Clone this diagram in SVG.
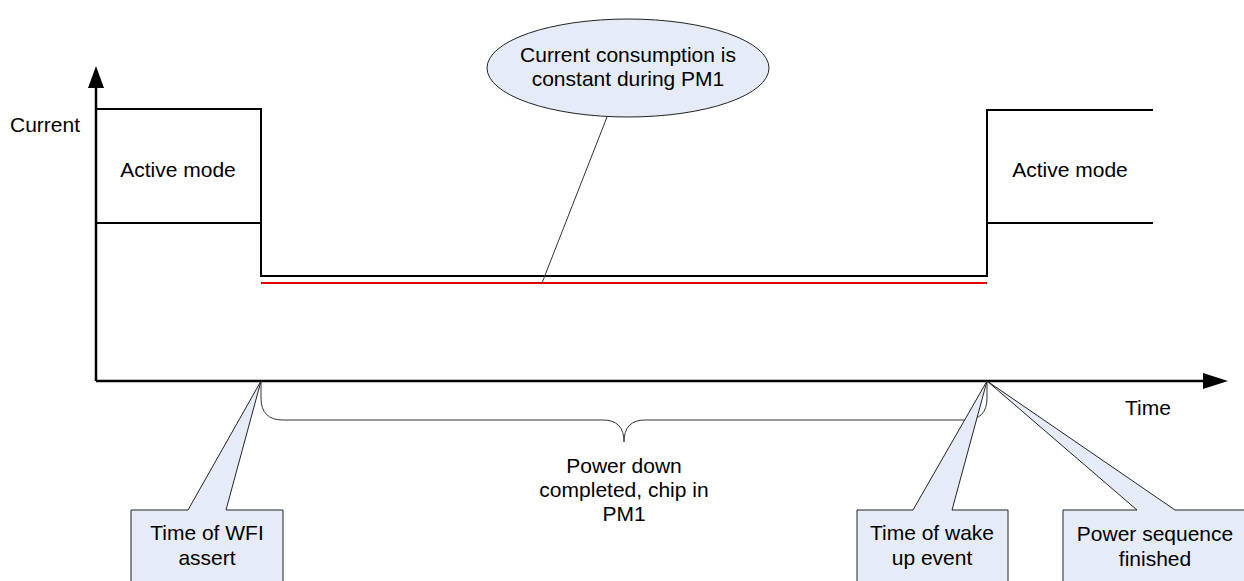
<svg xmlns="http://www.w3.org/2000/svg" width="1244" height="581" viewBox="0 0 1244 581">
<style>
text{font-family:"Liberation Sans",Arial,sans-serif;font-size:21px;fill:#000}
.c{text-anchor:middle}
.ax{stroke:#000;stroke-width:2.5;fill:none}
.wave{stroke:#000;stroke-width:2;fill:none}
.thin{stroke:#333;stroke-width:1;fill:none}
.call{fill:#e6ecf7;stroke:#222;stroke-width:1}
</style>
<rect width="1244" height="581" fill="#fff"/>
<g id="axes">
<line class="ax" x1="96" y1="381" x2="96" y2="86"/>
<polygon points="96,66 88,88 104,88" fill="#000"/>
<line class="ax" x1="96" y1="381" x2="1206" y2="381"/>
<polygon points="1228,381 1203,373 1203,389" fill="#000"/>
<text x="10" y="132">Current</text>
<text x="1125" y="415">Time</text>
</g>
<g id="waveform">
<polyline class="wave" points="96,109 261,109 261,276 987,276 987,110 1153,110"/>
<line class="wave" x1="96" y1="223" x2="261" y2="223"/>
<line class="wave" x1="987" y1="223" x2="1153" y2="223"/>
<line x1="261" y1="283" x2="987" y2="283" stroke="#e00000" stroke-width="2"/>
</g>
<g id="active-left"><text class="c" x="178" y="177">Active mode</text></g>
<g id="active-right"><text class="c" x="1070" y="177">Active mode</text></g>
<g id="connectors">
<line class="thin" x1="607" y1="117" x2="542" y2="283" stroke="#000"/>
<path class="thin" d="M261,381 V398 Q261,420 283,420 H603 Q624,420 624,442 Q624,420 645,420 H965 Q987,420 987,398 V381"/>
</g>
<g id="ellipse-note">
<ellipse class="call" cx="628" cy="68" rx="141" ry="49"/>
<text class="c" x="628" y="62">Current consumption is</text>
<text class="c" x="628" y="86">constant during PM1</text>
</g>
<g id="brace-label">
<text class="c" x="624" y="473">Power down</text>
<text class="c" x="624" y="497">completed, chip in</text>
<text class="c" x="624" y="521">PM1</text>
</g>
<g id="callout-wfi">
<path class="call" d="M131,582 V510 H188 L261,381 L226,510 H283 V582"/>
<text class="c" x="207" y="540">Time of WFI</text>
<text class="c" x="207" y="565">assert</text>
</g>
<g id="callout-wake">
<path class="call" d="M857,582 V510 H913 L987,381 L952,510 H1008 V582"/>
<text class="c" x="932" y="540">Time of wake</text>
<text class="c" x="932" y="565">up event</text>
</g>
<g id="callout-power">
<path class="call" d="M1063,582 V510 H1137 L987,381 L1175,510 H1250 V582"/>
<text class="c" x="1155" y="541">Power sequence</text>
<text class="c" x="1155" y="566">finished</text>
</g>
</svg>
